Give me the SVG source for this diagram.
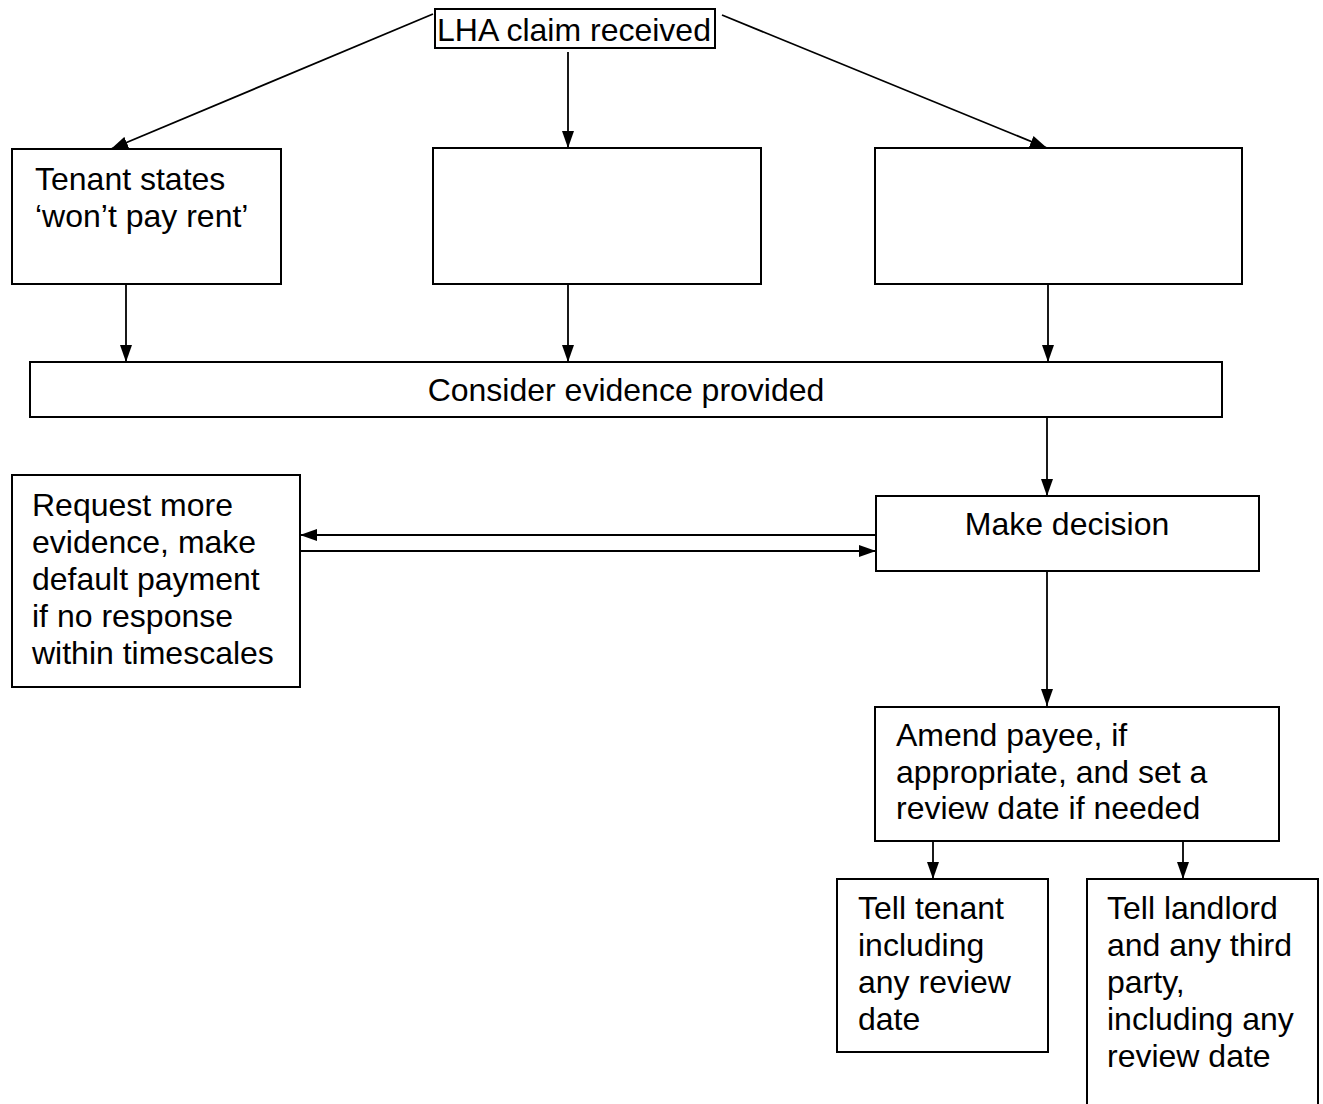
<svg xmlns="http://www.w3.org/2000/svg" width="1323" height="1104" viewBox="0 0 1323 1104">
<style>
.box{fill:#fff;stroke:#000;stroke-width:2}
.t{font-family:"Liberation Sans",Arial,sans-serif;font-size:32px;fill:#000}
.c{text-anchor:middle}
.con{stroke:#000;stroke-width:1.8;fill:none;marker-end:url(#ah)}
</style>
<defs>
<marker id="ah" markerWidth="17" markerHeight="12" refX="17" refY="6" orient="auto" markerUnits="userSpaceOnUse">
<path d="M0,0 L17,6 L0,12 Z" fill="#000"/>
</marker>
</defs>
<rect width="1323" height="1104" fill="#fff"/>
<g id="connectors">
<line class="con" x1="433" y1="14" x2="111" y2="149"/>
<line class="con" x1="568" y1="52" x2="568" y2="148"/>
<line class="con" x1="722" y1="15" x2="1047" y2="148"/>
<line class="con" x1="126" y1="284" x2="126" y2="362"/>
<line class="con" x1="568" y1="284" x2="568" y2="362"/>
<line class="con" x1="1048" y1="284" x2="1048" y2="362"/>
<line class="con" x1="1047" y1="418" x2="1047" y2="496"/>
<line class="con" x1="876" y1="535" x2="300" y2="535"/>
<line class="con" x1="300" y1="551" x2="876" y2="551"/>
<line class="con" x1="1047" y1="571" x2="1047" y2="706"/>
<line class="con" x1="933" y1="841" x2="933" y2="879"/>
<line class="con" x1="1183" y1="841" x2="1183" y2="879"/>
</g>
<g id="lha">
<rect class="box" x="435" y="9" width="280" height="39"/>
<text class="t c" x="574" y="41">LHA claim received</text>
</g>
<g id="tenant-states">
<rect class="box" x="12" y="149" width="269" height="135"/>
<text class="t" x="35" y="190">Tenant states</text>
<text class="t" x="35" y="227">‘won’t pay rent’</text>
</g>
<g id="empty-middle">
<rect class="box" x="433" y="148" width="328" height="136"/>
</g>
<g id="empty-right">
<rect class="box" x="875" y="148" width="367" height="136"/>
</g>
<g id="consider">
<rect class="box" x="30" y="362" width="1192" height="55"/>
<text class="t c" x="626" y="401">Consider evidence provided</text>
</g>
<g id="request">
<rect class="box" x="12" y="475" width="288" height="212"/>
<text class="t" x="32" y="516">Request more</text>
<text class="t" x="32" y="553">evidence, make</text>
<text class="t" x="32" y="590">default payment</text>
<text class="t" x="32" y="627">if no response</text>
<text class="t" x="32" y="664">within timescales</text>
</g>
<g id="decision">
<rect class="box" x="876" y="496" width="383" height="75"/>
<text class="t c" x="1067" y="535">Make decision</text>
</g>
<g id="amend">
<rect class="box" x="875" y="707" width="404" height="134"/>
<text class="t" x="896" y="746">Amend payee, if</text>
<text class="t" x="896" y="783">appropriate, and set a</text>
<text class="t" x="896" y="819">review date if needed</text>
</g>
<g id="tell-tenant">
<rect class="box" x="837" y="879" width="211" height="173"/>
<text class="t" x="858" y="919">Tell tenant</text>
<text class="t" x="858" y="956">including</text>
<text class="t" x="858" y="993">any review</text>
<text class="t" x="858" y="1030">date</text>
</g>
<g id="tell-landlord">
<rect class="box" x="1087" y="879" width="231" height="240"/>
<text class="t" x="1107" y="919">Tell landlord</text>
<text class="t" x="1107" y="956">and any third</text>
<text class="t" x="1107" y="993">party,</text>
<text class="t" x="1107" y="1030">including any</text>
<text class="t" x="1107" y="1067">review date</text>
</g>
</svg>
